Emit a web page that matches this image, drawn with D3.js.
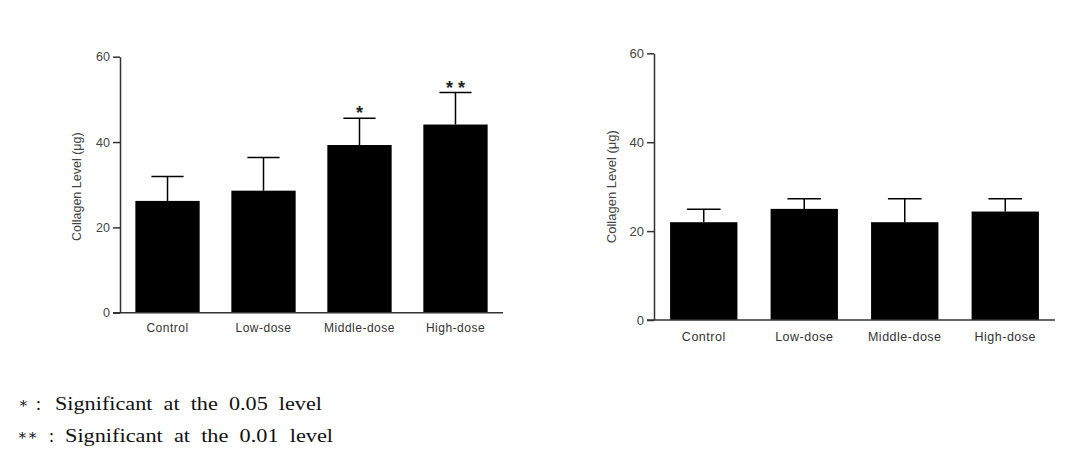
<!DOCTYPE html>
<html>
<head>
<meta charset="utf-8">
<script src="https://cdn.jsdelivr.net/npm/d3@7"></script>
<style>
  body { margin: 0; background: #fff; }
  svg { display: block; }
</style>
</head>
<body>
<svg id="chart" width="1087" height="458"></svg>
<script>
// data
var groups = ["Control", "Low-dose", "Middle-dose", "High-dose"];
var leftMeans = [26.2, 28.6, 39.3, 44.1];
var leftErrTop = [31.9, 36.4, 45.6, 51.6];
var leftStars = ["", "", "*", "* *"];
var rightMeans = [22.0, 25.0, 22.0, 24.4];
var rightErrTop = [24.9, 27.3, 27.3, 27.3];
var yTicks = [0, 20, 40, 60];
var yLabel = "Collagen Level (\u03bcg)";
var noteMarks = ["\u2217", "\u2217\u2217"];
var noteTexts = ["Significant  at  the  0.05  level", "Significant  at  the  0.01  level"];

var svg = d3.select("#chart");

// one bar panel
function drawPanel(opt){
    var g = svg.append("g");

    var x = d3.scaleBand()
        .domain(groups)
        .range([opt.x0, opt.x1])
        .paddingInner(0.33)
        .paddingOuter(0.16);

    var y = d3.scaleLinear()
        .domain([0, 60])
        .range([opt.yBase, opt.yTop]);

    // bars
    g.selectAll(".bar")
        .data(groups)
        .enter().append("rect")
        .attr("x", function(d) { return x(d); })
        .attr("y", function(d, i) { return y(opt.means[i]); })
        .attr("width", x.bandwidth())
        .attr("height", function(d, i) { return y(0) - y(opt.means[i]); })
        .attr("fill", "#000");

    // error bars, upper half only
    var eb = g.selectAll(".err")
        .data(groups)
        .enter().append("g");
    eb.append("line")
        .attr("x1", function(d) { return x(d) + x.bandwidth() / 2; })
        .attr("x2", function(d) { return x(d) + x.bandwidth() / 2; })
        .attr("y1", function(d, i) { return y(opt.means[i]); })
        .attr("y2", function(d, i) { return y(opt.errTop[i]); })
        .attr("stroke", "#000").attr("stroke-width", 1.5);
    eb.append("line")
        .attr("x1", function(d) { return x(d) + x.bandwidth() / 4; })
        .attr("x2", function(d) { return x(d) + x.bandwidth() * 3 / 4; })
        .attr("y1", function(d, i) { return y(opt.errTop[i]); })
        .attr("y2", function(d, i) { return y(opt.errTop[i]); })
        .attr("stroke", "#000").attr("stroke-width", 1.5);

    // significance marks
    if (opt.stars) {
        g.selectAll(".star")
            .data(groups)
            .enter().append("text")
            .attr("x", function(d) { return x(d) + x.bandwidth() / 2; })
            .attr("y", function(d, i) { return y(opt.errTop[i]) + 1; })
            .attr("text-anchor", "middle")
            .style("font-family", "Liberation Sans, Arial, sans-serif")
            .style("font-size", "18px")
            .style("font-weight", "bold")
            .attr("fill", "#222")
            .text(function(d, i) { return opt.stars[i]; });
    }

    // y axis
    var yAxis = g.append("g")
        .attr("transform", "translate(" + opt.x0 + ",0)")
        .call(d3.axisLeft(y).tickValues(yTicks).tickSize(7).tickPadding(3).tickSizeOuter(0));
    yAxis.select(".domain").attr("stroke", "#333").attr("stroke-width", 1.5);
    yAxis.selectAll(".tick line").attr("stroke", "#333").attr("stroke-width", 1.5);
    yAxis.selectAll(".tick text")
        .style("font-family", "Liberation Sans, Arial, sans-serif")
        .style("font-size", opt.tickFont + "px")
        .attr("fill", "#444");

    // x axis baseline, no ticks
    var xAxis = g.append("g")
        .attr("transform", "translate(0," + opt.yBase + ")")
        .call(d3.axisBottom(x).tickSize(0).tickPadding(opt.xPad).tickSizeOuter(0));
    xAxis.select(".domain").attr("stroke", "#333").attr("stroke-width", 1.5)
        .attr("d", "M" + (opt.x0 - 7) + ",0H" + opt.x1);
    xAxis.selectAll(".tick text")
        .style("font-family", "Liberation Sans, Arial, sans-serif")
        .style("font-size", opt.xFont + "px")
        .style("letter-spacing", "0.5px")
        .attr("fill", "#333");

    // y title
    g.append("text")
        .attr("transform", "translate(" + opt.titleX + "," + ((opt.yBase + opt.yTop) / 2 + opt.titleDy) + ") rotate(-90)")
        .attr("text-anchor", "middle")
        .style("font-family", "Liberation Sans, Arial, sans-serif")
        .style("font-size", opt.titleFont + "px")
        .attr("fill", "#444")
        .text(yLabel);
}

drawPanel({
    x0: 120, x1: 503, yBase: 312.7, yTop: 56.7,
    means: leftMeans, errTop: leftErrTop, stars: leftStars,
    tickFont: 12.5, xFont: 12, xPad: 11, titleX: 81, titleFont: 12.5, titleDy: 2
});

drawPanel({
    x0: 654, x1: 1055, yBase: 320, yTop: 53.3,
    means: rightMeans, errTop: rightErrTop, stars: null,
    tickFont: 13, xFont: 12.5, xPad: 12, titleX: 616, titleFont: 13, titleDy: 0
});

// footnotes: marker, colon, then the text stretched to the reference width
var noteStarX = [18, 17], noteColonX = [36, 49], noteTextX = [55, 65], noteW = [267, 268];
var notes = svg.selectAll(".note")
    .data(noteTexts)
    .enter().append("g")
    .style("font-family", "Liberation Serif, DejaVu Serif, serif")
    .attr("fill", "#111");
notes.append("text")
    .attr("x", function(d, i) { return noteStarX[i]; })
    .attr("y", function(d, i) { return 408 + i * 32; })
    .style("font-size", "15px")
    .text(function(d, i) { return noteMarks[i]; });
notes.append("text")
    .attr("x", function(d, i) { return noteColonX[i]; })
    .attr("y", function(d, i) { return 410 + i * 32; })
    .style("font-size", "18px")
    .text(":");
notes.append("text")
    .attr("x", function(d, i) { return noteTextX[i]; })
    .attr("y", function(d, i) { return 410 + i * 32; })
    .style("font-size", "18px")
    .attr("xml:space", "preserve")
    .style("white-space", "pre")
    .attr("textLength", function(d, i) { return noteW[i]; })
    .attr("lengthAdjust", "spacingAndGlyphs")
    .text(function(d) { return d; });
</script>
</body>
</html>
